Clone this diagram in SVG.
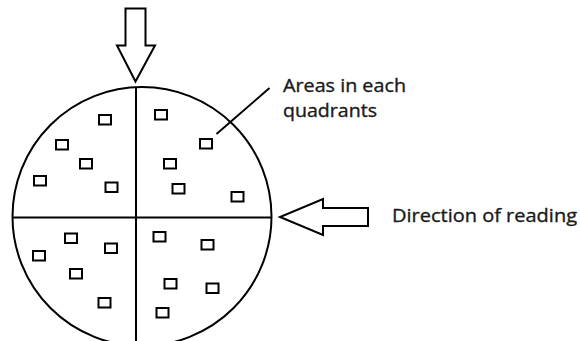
<svg xmlns="http://www.w3.org/2000/svg" width="580" height="341" viewBox="0 0 580 341">
<style>
.ln{fill:none;stroke:#000;stroke-width:2}
.sq{fill:#fff;stroke:#000;stroke-width:2}
.ar{fill:#fff;stroke:#000;stroke-width:2;stroke-linejoin:miter}
.t{font-family:"Open Sans","Liberation Sans",sans-serif;font-size:18px;fill:#1a1a1a;stroke:#1a1a1a;stroke-width:0.35}
</style>
<rect width="580" height="341" fill="#fff"/>
<g id="disc">
<circle class="ln" cx="142" cy="216.5" r="129.5"/>
<line class="ln" x1="136" y1="87" x2="136" y2="341"/>
<line class="ln" x1="13" y1="217.5" x2="271.5" y2="217.5"/>
</g>
<g id="areas">
<rect class="sq" x="99" y="115" width="12" height="9.5"/>
<rect class="sq" x="155" y="110" width="12" height="9.5"/>
<rect class="sq" x="56" y="140" width="12" height="9.5"/>
<rect class="sq" x="200" y="139" width="12" height="9.5"/>
<rect class="sq" x="80" y="159" width="12" height="9.5"/>
<rect class="sq" x="164" y="159" width="12" height="9.5"/>
<rect class="sq" x="34" y="176" width="12" height="9.5"/>
<rect class="sq" x="105.5" y="182.5" width="12" height="9.5"/>
<rect class="sq" x="172.5" y="184" width="12" height="9.5"/>
<rect class="sq" x="231.5" y="192" width="12" height="9.5"/>
<rect class="sq" x="65" y="233.5" width="12" height="9.5"/>
<rect class="sq" x="153.5" y="232" width="12" height="9.5"/>
<rect class="sq" x="105" y="243.5" width="12" height="9.5"/>
<rect class="sq" x="201.5" y="240" width="12" height="9.5"/>
<rect class="sq" x="33" y="251" width="12" height="9.5"/>
<rect class="sq" x="70" y="269" width="12" height="9.5"/>
<rect class="sq" x="164.5" y="279" width="12" height="9.5"/>
<rect class="sq" x="206.5" y="283.5" width="12" height="9.5"/>
<rect class="sq" x="98.5" y="298" width="12" height="9.5"/>
<rect class="sq" x="156.5" y="308" width="12" height="9.5"/>
</g>
<g id="arrow-top">
<polygon class="ar" points="125.5,8.5 145.5,8.5 145.5,45.5 155,45.5 135.5,81.5 117,45.5 125.5,45.5"/>
</g>
<g id="arrow-right">
<polygon class="ar" points="368,208 323,208 323,199 280,217 323,235 323,226 368,226"/>
</g>
<g id="connectors">
<line class="ln" x1="216.5" y1="134" x2="269.5" y2="88"/>
</g>
<g id="label-areas">
<text class="t" x="283" y="91.5" textLength="123" lengthAdjust="spacingAndGlyphs">Areas in each</text>
<text class="t" x="283" y="117" textLength="94" lengthAdjust="spacingAndGlyphs">quadrants</text>
</g>
<g id="label-direction">
<text class="t" x="392" y="221.5" textLength="185" lengthAdjust="spacingAndGlyphs">Direction of reading</text>
</g>
</svg>
